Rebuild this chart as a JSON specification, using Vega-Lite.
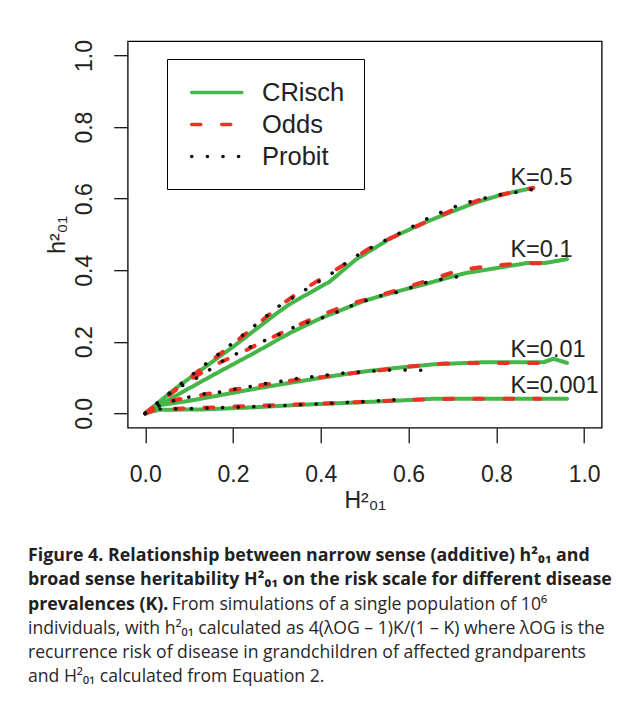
{
  "$schema": "https://vega.github.io/schema/vega-lite/v6.json",
  "width": 474,
  "height": 386.5,
  "autosize": "none",
  "padding": {"left": 127.7, "top": 41.2, "right": 24.3, "bottom": 278.3},
  "background": "white",
  "datasets": {
    "curves": [
      {"method": "CRisch", "K": "0.5", "H": 0, "h": 0},
      {"method": "CRisch", "K": "0.5", "H": 0.068, "h": 0.069},
      {"method": "CRisch", "K": "0.5", "H": 0.2, "h": 0.186},
      {"method": "CRisch", "K": "0.5", "H": 0.3, "h": 0.28},
      {"method": "CRisch", "K": "0.5", "H": 0.33, "h": 0.306},
      {"method": "CRisch", "K": "0.5", "H": 0.42, "h": 0.368},
      {"method": "CRisch", "K": "0.5", "H": 0.48, "h": 0.43},
      {"method": "CRisch", "K": "0.5", "H": 0.56, "h": 0.49},
      {"method": "CRisch", "K": "0.5", "H": 0.634, "h": 0.532},
      {"method": "CRisch", "K": "0.5", "H": 0.695, "h": 0.562},
      {"method": "CRisch", "K": "0.5", "H": 0.75, "h": 0.588},
      {"method": "CRisch", "K": "0.5", "H": 0.817, "h": 0.613},
      {"method": "CRisch", "K": "0.5", "H": 0.884, "h": 0.63},
      {"method": "Odds", "K": "0.5", "H": 0, "h": 0},
      {"method": "Odds", "K": "0.5", "H": 0.046, "h": 0.044},
      {"method": "Odds", "K": "0.5", "H": 0.144, "h": 0.141},
      {"method": "Odds", "K": "0.5", "H": 0.198, "h": 0.192},
      {"method": "Odds", "K": "0.5", "H": 0.255, "h": 0.248},
      {"method": "Odds", "K": "0.5", "H": 0.304, "h": 0.298},
      {"method": "Odds", "K": "0.5", "H": 0.342, "h": 0.332},
      {"method": "Odds", "K": "0.5", "H": 0.407, "h": 0.381},
      {"method": "Odds", "K": "0.5", "H": 0.459, "h": 0.42},
      {"method": "Odds", "K": "0.5", "H": 0.516, "h": 0.465},
      {"method": "Odds", "K": "0.5", "H": 0.581, "h": 0.502},
      {"method": "Odds", "K": "0.5", "H": 0.642, "h": 0.536},
      {"method": "Odds", "K": "0.5", "H": 0.7, "h": 0.568},
      {"method": "Odds", "K": "0.5", "H": 0.76, "h": 0.596},
      {"method": "Odds", "K": "0.5", "H": 0.82, "h": 0.613},
      {"method": "Odds", "K": "0.5", "H": 0.884, "h": 0.63},
      {"method": "Probit", "K": "0.5", "H": 0, "h": 0},
      {"method": "Probit", "K": "0.5", "H": 0.061, "h": 0.063},
      {"method": "Probit", "K": "0.5", "H": 0.12, "h": 0.121},
      {"method": "Probit", "K": "0.5", "H": 0.18, "h": 0.178},
      {"method": "Probit", "K": "0.5", "H": 0.24, "h": 0.236},
      {"method": "Probit", "K": "0.5", "H": 0.3, "h": 0.296},
      {"method": "Probit", "K": "0.5", "H": 0.359, "h": 0.341},
      {"method": "Probit", "K": "0.5", "H": 0.418, "h": 0.385},
      {"method": "Probit", "K": "0.5", "H": 0.475, "h": 0.436},
      {"method": "Probit", "K": "0.5", "H": 0.534, "h": 0.476},
      {"method": "Probit", "K": "0.5", "H": 0.595, "h": 0.513},
      {"method": "Probit", "K": "0.5", "H": 0.656, "h": 0.553},
      {"method": "Probit", "K": "0.5", "H": 0.688, "h": 0.568},
      {"method": "Probit", "K": "0.5", "H": 0.72, "h": 0.585},
      {"method": "Probit", "K": "0.5", "H": 0.752, "h": 0.595},
      {"method": "Probit", "K": "0.5", "H": 0.786, "h": 0.605},
      {"method": "Probit", "K": "0.5", "H": 0.819, "h": 0.614},
      {"method": "Probit", "K": "0.5", "H": 0.852, "h": 0.619},
      {"method": "Probit", "K": "0.5", "H": 0.887, "h": 0.627},
      {"method": "CRisch", "K": "0.1", "H": 0, "h": 0},
      {"method": "CRisch", "K": "0.1", "H": 0.05, "h": 0.036},
      {"method": "CRisch", "K": "0.1", "H": 0.15, "h": 0.104},
      {"method": "CRisch", "K": "0.1", "H": 0.25, "h": 0.17},
      {"method": "CRisch", "K": "0.1", "H": 0.33, "h": 0.225},
      {"method": "CRisch", "K": "0.1", "H": 0.4, "h": 0.266},
      {"method": "CRisch", "K": "0.1", "H": 0.5, "h": 0.315},
      {"method": "CRisch", "K": "0.1", "H": 0.56, "h": 0.336},
      {"method": "CRisch", "K": "0.1", "H": 0.634, "h": 0.36},
      {"method": "CRisch", "K": "0.1", "H": 0.695, "h": 0.381},
      {"method": "CRisch", "K": "0.1", "H": 0.73, "h": 0.392},
      {"method": "CRisch", "K": "0.1", "H": 0.8, "h": 0.406},
      {"method": "CRisch", "K": "0.1", "H": 0.87, "h": 0.42},
      {"method": "CRisch", "K": "0.1", "H": 0.91, "h": 0.42},
      {"method": "CRisch", "K": "0.1", "H": 0.961, "h": 0.431},
      {"method": "Odds", "K": "0.1", "H": 0, "h": 0},
      {"method": "Odds", "K": "0.1", "H": 0.05, "h": 0.048},
      {"method": "Odds", "K": "0.1", "H": 0.1, "h": 0.092},
      {"method": "Odds", "K": "0.1", "H": 0.156, "h": 0.134},
      {"method": "Odds", "K": "0.1", "H": 0.214, "h": 0.167},
      {"method": "Odds", "K": "0.1", "H": 0.276, "h": 0.205},
      {"method": "Odds", "K": "0.1", "H": 0.337, "h": 0.24},
      {"method": "Odds", "K": "0.1", "H": 0.397, "h": 0.273},
      {"method": "Odds", "K": "0.1", "H": 0.46, "h": 0.303},
      {"method": "Odds", "K": "0.1", "H": 0.522, "h": 0.325},
      {"method": "Odds", "K": "0.1", "H": 0.588, "h": 0.35},
      {"method": "Odds", "K": "0.1", "H": 0.651, "h": 0.374},
      {"method": "Odds", "K": "0.1", "H": 0.718, "h": 0.401},
      {"method": "Odds", "K": "0.1", "H": 0.785, "h": 0.412},
      {"method": "Odds", "K": "0.1", "H": 0.853, "h": 0.419},
      {"method": "Odds", "K": "0.1", "H": 0.93, "h": 0.42},
      {"method": "Probit", "K": "0.1", "H": 0, "h": 0},
      {"method": "Probit", "K": "0.1", "H": 0.04, "h": 0.042},
      {"method": "Probit", "K": "0.1", "H": 0.08, "h": 0.075},
      {"method": "Probit", "K": "0.1", "H": 0.125, "h": 0.104},
      {"method": "Probit", "K": "0.1", "H": 0.182, "h": 0.151},
      {"method": "Probit", "K": "0.1", "H": 0.243, "h": 0.188},
      {"method": "Probit", "K": "0.1", "H": 0.304, "h": 0.22},
      {"method": "Probit", "K": "0.1", "H": 0.346, "h": 0.245},
      {"method": "Probit", "K": "0.1", "H": 0.403, "h": 0.267},
      {"method": "Probit", "K": "0.1", "H": 0.433, "h": 0.281},
      {"method": "Probit", "K": "0.1", "H": 0.466, "h": 0.299},
      {"method": "Probit", "K": "0.1", "H": 0.498, "h": 0.313},
      {"method": "Probit", "K": "0.1", "H": 0.53, "h": 0.327},
      {"method": "Probit", "K": "0.1", "H": 0.564, "h": 0.335},
      {"method": "Probit", "K": "0.1", "H": 0.597, "h": 0.348},
      {"method": "Probit", "K": "0.1", "H": 0.629, "h": 0.362},
      {"method": "Probit", "K": "0.1", "H": 0.661, "h": 0.372},
      {"method": "Probit", "K": "0.1", "H": 0.694, "h": 0.378},
      {"method": "Probit", "K": "0.1", "H": 0.729, "h": 0.386},
      {"method": "CRisch", "K": "0.01", "H": 0, "h": 0},
      {"method": "CRisch", "K": "0.01", "H": 0.027, "h": 0.022},
      {"method": "CRisch", "K": "0.01", "H": 0.1, "h": 0.035},
      {"method": "CRisch", "K": "0.01", "H": 0.18, "h": 0.053},
      {"method": "CRisch", "K": "0.01", "H": 0.26, "h": 0.071},
      {"method": "CRisch", "K": "0.01", "H": 0.353, "h": 0.09},
      {"method": "CRisch", "K": "0.01", "H": 0.43, "h": 0.105},
      {"method": "CRisch", "K": "0.01", "H": 0.505, "h": 0.118},
      {"method": "CRisch", "K": "0.01", "H": 0.58, "h": 0.128},
      {"method": "CRisch", "K": "0.01", "H": 0.657, "h": 0.137},
      {"method": "CRisch", "K": "0.01", "H": 0.771, "h": 0.143},
      {"method": "CRisch", "K": "0.01", "H": 0.908, "h": 0.143},
      {"method": "CRisch", "K": "0.01", "H": 0.93, "h": 0.1525},
      {"method": "CRisch", "K": "0.01", "H": 0.961, "h": 0.141},
      {"method": "Odds", "K": "0.01", "H": 0, "h": 0},
      {"method": "Odds", "K": "0.01", "H": 0.03, "h": 0.028},
      {"method": "Odds", "K": "0.01", "H": 0.08, "h": 0.04},
      {"method": "Odds", "K": "0.01", "H": 0.14, "h": 0.054},
      {"method": "Odds", "K": "0.01", "H": 0.2, "h": 0.066},
      {"method": "Odds", "K": "0.01", "H": 0.27, "h": 0.08},
      {"method": "Odds", "K": "0.01", "H": 0.34, "h": 0.093},
      {"method": "Odds", "K": "0.01", "H": 0.406, "h": 0.102},
      {"method": "Odds", "K": "0.01", "H": 0.475, "h": 0.113},
      {"method": "Odds", "K": "0.01", "H": 0.54, "h": 0.121},
      {"method": "Odds", "K": "0.01", "H": 0.608, "h": 0.132},
      {"method": "Odds", "K": "0.01", "H": 0.672, "h": 0.1385},
      {"method": "Odds", "K": "0.01", "H": 0.741, "h": 0.141},
      {"method": "Odds", "K": "0.01", "H": 0.809, "h": 0.141},
      {"method": "Odds", "K": "0.01", "H": 0.9, "h": 0.141},
      {"method": "Probit", "K": "0.01", "H": 0, "h": 0},
      {"method": "Probit", "K": "0.01", "H": 0.042, "h": 0.028},
      {"method": "Probit", "K": "0.01", "H": 0.076, "h": 0.039},
      {"method": "Probit", "K": "0.01", "H": 0.109, "h": 0.048},
      {"method": "Probit", "K": "0.01", "H": 0.14, "h": 0.056},
      {"method": "Probit", "K": "0.01", "H": 0.175, "h": 0.06},
      {"method": "Probit", "K": "0.01", "H": 0.209, "h": 0.069},
      {"method": "Probit", "K": "0.01", "H": 0.243, "h": 0.076},
      {"method": "Probit", "K": "0.01", "H": 0.277, "h": 0.084},
      {"method": "Probit", "K": "0.01", "H": 0.312, "h": 0.09},
      {"method": "Probit", "K": "0.01", "H": 0.344, "h": 0.097},
      {"method": "Probit", "K": "0.01", "H": 0.38, "h": 0.102},
      {"method": "Probit", "K": "0.01", "H": 0.412, "h": 0.107},
      {"method": "Probit", "K": "0.01", "H": 0.446, "h": 0.112},
      {"method": "Probit", "K": "0.01", "H": 0.481, "h": 0.115},
      {"method": "Probit", "K": "0.01", "H": 0.515, "h": 0.118},
      {"method": "Probit", "K": "0.01", "H": 0.549, "h": 0.121},
      {"method": "Probit", "K": "0.01", "H": 0.584, "h": 0.121},
      {"method": "Probit", "K": "0.01", "H": 0.618, "h": 0.121},
      {"method": "Probit", "K": "0.01", "H": 0.653, "h": 0.12},
      {"method": "CRisch", "K": "0.001", "H": 0, "h": 0},
      {"method": "CRisch", "K": "0.001", "H": 0.03, "h": 0.01},
      {"method": "CRisch", "K": "0.001", "H": 0.13, "h": 0.011},
      {"method": "CRisch", "K": "0.001", "H": 0.25, "h": 0.017},
      {"method": "CRisch", "K": "0.001", "H": 0.353, "h": 0.024},
      {"method": "CRisch", "K": "0.001", "H": 0.47, "h": 0.03},
      {"method": "CRisch", "K": "0.001", "H": 0.581, "h": 0.036},
      {"method": "CRisch", "K": "0.001", "H": 0.657, "h": 0.041},
      {"method": "CRisch", "K": "0.001", "H": 0.8, "h": 0.041},
      {"method": "CRisch", "K": "0.001", "H": 0.961, "h": 0.041},
      {"method": "Odds", "K": "0.001", "H": 0, "h": 0},
      {"method": "Odds", "K": "0.001", "H": 0.025, "h": 0.012},
      {"method": "Odds", "K": "0.001", "H": 0.1, "h": 0.014},
      {"method": "Odds", "K": "0.001", "H": 0.2, "h": 0.019},
      {"method": "Odds", "K": "0.001", "H": 0.3, "h": 0.023},
      {"method": "Odds", "K": "0.001", "H": 0.4, "h": 0.027},
      {"method": "Odds", "K": "0.001", "H": 0.5, "h": 0.032},
      {"method": "Odds", "K": "0.001", "H": 0.6, "h": 0.038},
      {"method": "Odds", "K": "0.001", "H": 0.7, "h": 0.041},
      {"method": "Odds", "K": "0.001", "H": 0.9, "h": 0.041},
      {"method": "Probit", "K": "0.001", "H": 0, "h": 0},
      {"method": "Probit", "K": "0.001", "H": 0.03, "h": 0.012},
      {"method": "Probit", "K": "0.001", "H": 0.1, "h": 0.013},
      {"method": "Probit", "K": "0.001", "H": 0.2, "h": 0.017},
      {"method": "Probit", "K": "0.001", "H": 0.3, "h": 0.021},
      {"method": "Probit", "K": "0.001", "H": 0.4, "h": 0.027},
      {"method": "Probit", "K": "0.001", "H": 0.5, "h": 0.033},
      {"method": "Probit", "K": "0.001", "H": 0.581, "h": 0.039}
    ],
    "labels": [
      {"label": "K=0.5", "H": 0.832, "h": 0.658},
      {"label": "K=0.1", "H": 0.832, "h": 0.456},
      {"label": "K=0.01", "H": 0.832, "h": 0.176},
      {"label": "K=0.001", "H": 0.832, "h": 0.0753}
    ]
  },
  "title": {
    "text": [
      "Figure 4. Relationship between narrow sense (additive) h²₀₁ and",
      "broad sense heritability H²₀₁ on the risk scale for different disease",
      "prevalences (K)."
    ],
    "subtitle": [
      "\u200b\u2003\u2003\u2003\u2003\u2003\u2003\u2003\u2002\u2002\u2009From simulations of a single population of 10⁶",
      "individuals, with h²₀₁ calculated as 4(λOG – 1)K/(1 – K)  where λOG is the",
      "recurrence risk of disease in grandchildren of affected grandparents",
      "and H²₀₁ calculated from Equation 2."
    ],
    "orient": "bottom",
    "anchor": "start",
    "frame": "group",
    "dx": -99.7,
    "offset": 34.5,
    "font": "Open Sans",
    "fontSize": 17.8,
    "fontWeight": "bold",
    "color": "#231f20",
    "lineHeight": 24.2,
    "subtitleFont": "Open Sans",
    "subtitleFontSize": 17.6,
    "subtitleFontWeight": "normal",
    "subtitleColor": "#2a2627",
    "subtitleLineHeight": 24.2,
    "subtitlePadding": -17.8
  },
  "encoding": {
    "x": {
      "field": "H", "type": "quantitative",
      "scale": {"domain": [-0.04, 1.04], "nice": false, "zero": false},
      "axis": {"title": "H²₀₁", "values": [0, 0.2, 0.4, 0.6, 0.8, 1.0], "format": ".1f", "labelPadding": 21, "tickSize": 15, "titlePadding": 3}
    },
    "y": {
      "field": "h", "type": "quantitative",
      "scale": {"domain": [-0.04, 1.04], "nice": false, "zero": false},
      "axis": {"title": "h²₀₁", "values": [0, 0.2, 0.4, 0.6, 0.8, 1.0], "format": ".1f", "labelAngle": -90, "labelAlign": "center", "labelBaseline": "bottom", "labelPadding": 17, "tickSize": 14, "titlePadding": 4}
    }
  },
  "layer": [
    {
      "data": {"name": "curves"},
      "transform": [{"filter": "datum.method === 'CRisch'"}],
      "mark": {"type": "line", "strokeWidth": 4, "strokeCap": "round", "strokeJoin": "round"},
      "encoding": {
        "detail": {"field": "K"},
        "color": {"field": "method", "type": "nominal", "scale": {"domain": ["CRisch", "Odds", "Probit"], "range": ["#45b649", "#ee3124", "#111111"]}, "legend": {"title": null, "orient": "none", "legendX": 39.3, "legendY": 17.8, "padding": 19, "labelOffset": 47, "symbolType": "M-0.7,0H3.3", "symbolSize": 625, "rowPadding": 4, "encode": {"symbols": {"update": {"strokeCap": {"value": "round"}}}}}},
        "strokeDash": {"field": "method", "type": "nominal", "scale": {"domain": ["CRisch", "Odds", "Probit"], "range": [[1, 0], [9, 21], [0.1, 15.5]]}, "legend": {"title": null, "orient": "none", "legendX": 39.3, "legendY": 17.8, "padding": 19, "labelOffset": 47, "symbolType": "M-0.7,0H3.3", "symbolSize": 625, "rowPadding": 4, "encode": {"symbols": {"update": {"strokeCap": {"value": "round"}}}}}}
      }
    },
    {
      "data": {"name": "curves"},
      "transform": [{"filter": "datum.method === 'Odds'"}],
      "mark": {"type": "line", "strokeWidth": 4, "strokeCap": "round", "strokeJoin": "round"},
      "encoding": {
        "detail": {"field": "K"},
        "color": {"field": "method", "type": "nominal"},
        "strokeDash": {"field": "method", "type": "nominal"}
      }
    },
    {
      "data": {"name": "curves"},
      "transform": [{"filter": "datum.method === 'Probit'"}],
      "mark": {"type": "line", "strokeWidth": 3.6, "strokeCap": "round", "strokeJoin": "round"},
      "encoding": {
        "detail": {"field": "K"},
        "color": {"field": "method", "type": "nominal"},
        "strokeDash": {"field": "method", "type": "nominal"}
      }
    },
    {
      "data": {"name": "labels"},
      "mark": {"type": "text", "align": "left", "baseline": "middle", "font": "Liberation Sans", "fontSize": 23.5, "color": "#222222"},
      "encoding": {
        "text": {"field": "label"}
      }
    }
  ],
  "config": {
    "view": {"stroke": "#000000", "strokeWidth": 1.3},
    "axis": {
      "grid": false,
      "domain": false,
      "tickColor": "#000000",
      "tickWidth": 1.2,
      "labelFont": "Liberation Sans",
      "labelFontSize": 23,
      "labelColor": "#222222",
      "titleFont": "Liberation Sans",
      "titleFontSize": 23,
      "titleFontWeight": "normal",
      "titleColor": "#222222"
    },
    "legend": {
      "strokeColor": "#000000",
      "fillColor": "#ffffff",
      "labelFont": "Liberation Sans",
      "labelFontSize": 25.5,
      "labelColor": "#222222",
      "symbolStrokeWidth": 3.6,
      "symbolFillColor": "transparent"
    }
  }
}
